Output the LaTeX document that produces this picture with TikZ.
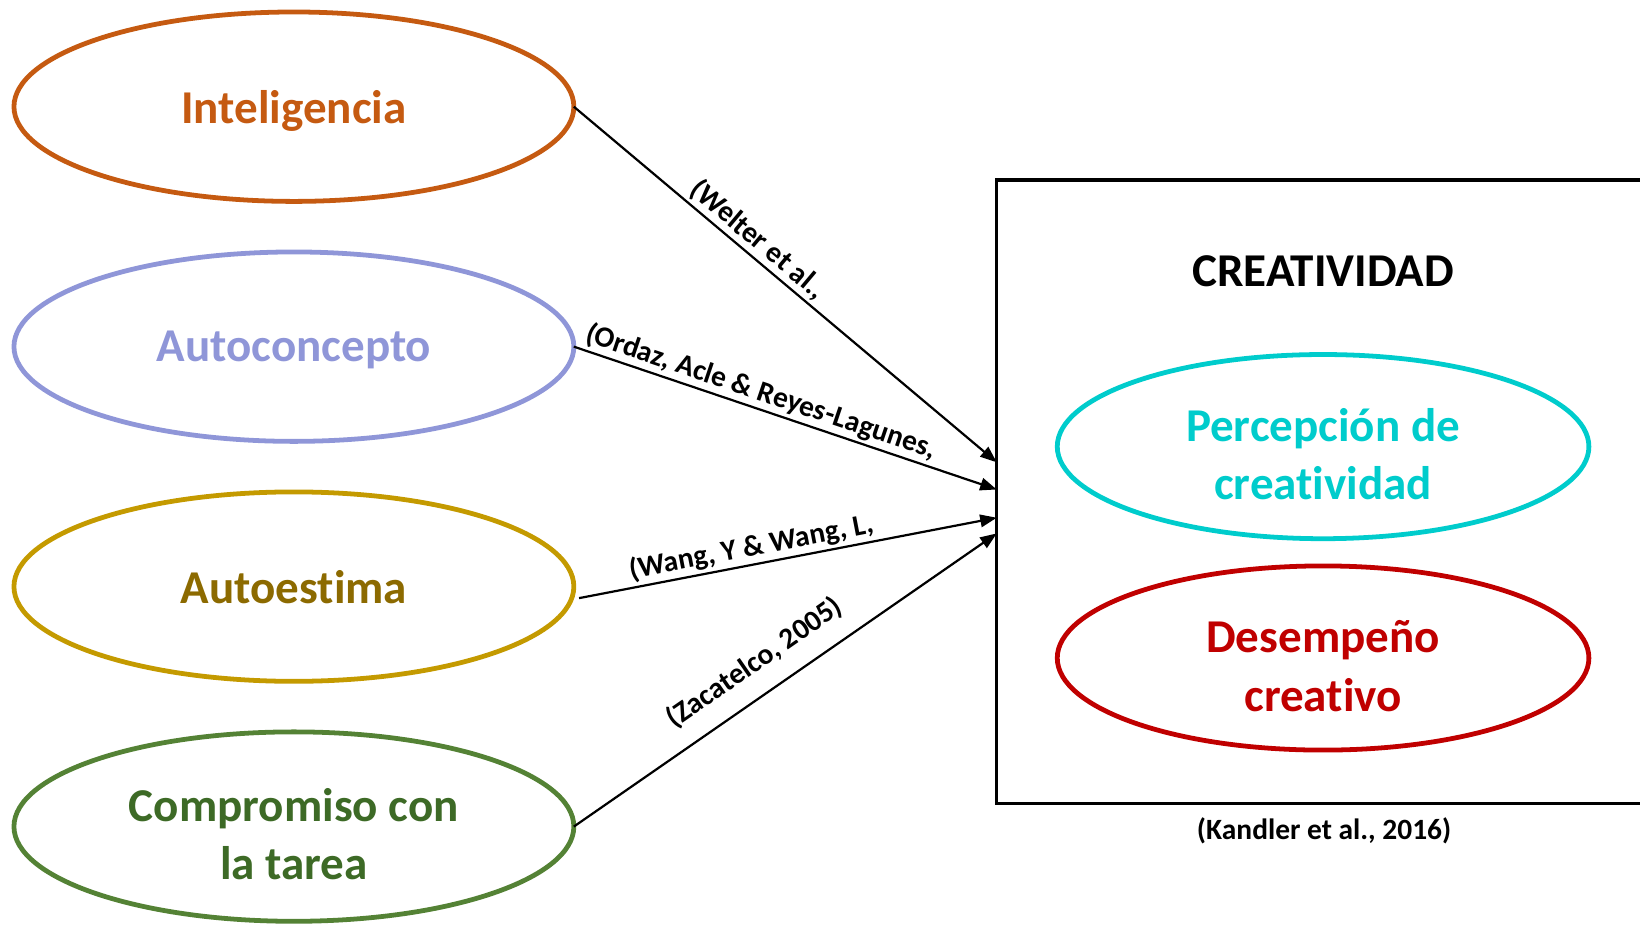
\documentclass[tikz,border=0pt]{standalone}
\usepackage{fontspec}
\setmainfont{Carlito}[Ligatures=NoCommon]
\usepackage{tikz}
\usetikzlibrary{arrows.meta}
\usetikzlibrary{shapes.geometric}
\usetikzlibrary{positioning}

\definecolor{cintel}{HTML}{C55A11}
\definecolor{cauto}{HTML}{8F96D8}
\definecolor{cestima}{HTML}{C49A00}
\definecolor{cestimatxt}{HTML}{8C6A00}
\definecolor{ccomp}{HTML}{548235}
\definecolor{ccomptxt}{HTML}{3D6A26}
\definecolor{cperc}{HTML}{00CCCC}
\definecolor{cdes}{HTML}{C00000}

\newcommand{\fuenteovalo}{\fontsize{12.8}{16}\selectfont\bfseries}
\newcommand{\fuentecita}{\fontsize{8}{9.6}\selectfont\bfseries}

\begin{document}
\begin{tikzpicture}[x=0.01cm, y=-0.01cm, >={Triangle[length=4.5pt,width=3.4pt]},
    ovalo/.style={ellipse, draw=#1, text=#1, line width=1.3pt, outer sep=0pt, inner sep=0pt,
        minimum width=5.35cm, minimum height=1.81cm, align=center, text depth=0pt, font=\fuenteovalo},
    doble/.style={text height=29pt},
    cita/.style={sloped, above, inner sep=0.7pt, font=\fuentecita},
    flecha/.style={->, line width=0.6pt}]
    \useasboundingbox (0,0) rectangle (1568,884);

    \node[ovalo=cintel] (intel) at (281,102) {Inteligencia};
    \node[ovalo=cauto, below=0.483cm of intel] (concepto) {Autoconcepto};
    \node[ovalo=cestima, text=cestimatxt, below=0.483cm of concepto] (estima) {Autoestima};
    \node[ovalo=ccomp, doble, text=ccomptxt, below=0.483cm of estima] (comp) {Compromiso con\\la tarea};

    \node[draw, line width=0.9pt, outer sep=0pt, minimum width=6.3cm, minimum height=5.96cm,
        anchor=north west] (marco) at (953,172) {};
    \node[font=\fuenteovalo] (creat) at (1265,259) {CREATIVIDAD};
    \node[ovalo=cperc, doble, minimum width=5.08cm, minimum height=1.76cm] (perc) at (1265,427) {Percepción de\\creatividad};
    \node[ovalo=cdes, doble, minimum width=5.08cm, minimum height=1.76cm, below=0.26cm of perc] (desem) {Desempeño\\creativo};
    \node[font=\fuentecita] (kandler) at (1266,794) {(Kandler et al., 2016)};

    \coordinate (e1) at (953,442);
    \coordinate (e2) at (953,468);
    \coordinate (e3) at (953,495);
    \coordinate (e4) at (953,510);

    \draw[flecha] (intel.east) -- node[cita, pos=0.41]{(Welter et al.,} (e1);
    \draw[flecha] (concepto.east) -- node[cita, pos=0.43]{(Ordaz, Acle \& Reyes-Lagunes,} (e2);
    \draw[flecha] ([shift={(5,11)}]estima.east) -- node[cita, pos=0.42]{(Wang, Y \& Wang, L,} (e3);
    \draw[flecha] (comp.east) -- node[cita, above=4pt, pos=0.47]{(Zacatelco, 2005)} (e4);

\end{tikzpicture}
\end{document}
